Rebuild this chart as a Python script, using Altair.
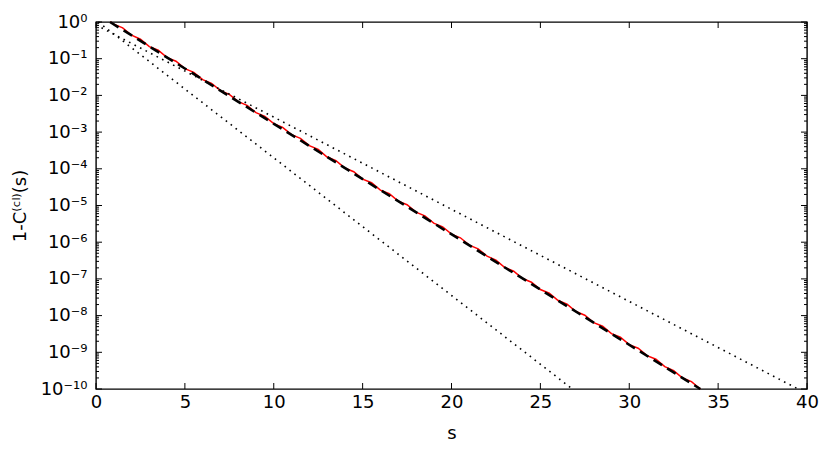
import json
import altair as alt
import pandas as pd

# ---- data ----
# red (solid, slightly wavy) curve: s and log10(1-C)
red_s = [0.8, 1.0, 1.5, 2.0, 2.5, 3.0, 3.5, 4.0, 4.5, 5.0, 5.5, 6.0, 6.5, 7.0, 7.5,
         8.0, 8.5, 9.0, 9.5, 10.0, 10.5, 11.0, 11.5, 12.0, 12.5, 13.0, 13.5, 14.0,
         14.5, 15.0, 15.5, 16.0, 16.5, 17.0, 17.5, 18.0, 18.5, 19.0, 19.5, 20.0,
         20.5, 21.0, 21.5, 22.0, 22.5, 23.0, 23.5, 24.0, 24.5, 25.0, 25.5, 26.0,
         26.5, 27.0, 27.5, 28.0, 28.5, 29.0, 29.5, 30.0, 30.5, 31.0, 31.5, 32.0,
         32.5, 33.0, 33.5, 34.0]
red_log = [0.0, -0.06, -0.16, -0.36, -0.47, -0.67, -0.77, -0.97, -1.07, -1.27, -1.37,
           -1.57, -1.67, -1.87, -1.97, -2.17, -2.27, -2.47, -2.57, -2.77, -2.87, -3.07,
           -3.17, -3.37, -3.47, -3.68, -3.78, -3.98, -4.08, -4.28, -4.38, -4.58, -4.68,
           -4.88, -4.98, -5.18, -5.28, -5.48, -5.58, -5.78, -5.88, -6.08, -6.18, -6.38,
           -6.49, -6.69, -6.79, -6.99, -7.09, -7.29, -7.39, -7.59, -7.69, -7.89, -7.99,
           -8.19, -8.29, -8.49, -8.59, -8.79, -8.89, -9.09, -9.19, -9.39, -9.50, -9.70,
           -9.80, -10.00]

# black dashed straight line
dash_s = [0.79, 34.0]
dash_y = [1.0, 1e-10]

# upper dotted line
dot1_s = [0.0, 39.5]
dot1_y = [0.83, 1e-10]

# lower dotted line
dot2_s = [0.13, 26.8]
dot2_y = [1.0, 1e-10]

# axis ticks
x_ticks = [0, 5, 10, 15, 20, 25, 30, 35, 40]
y_major = [10.0 ** (-k) for k in range(0, 11)]
y_minor = [m * 10.0 ** (-k) for k in range(1, 11) for m in range(2, 10)]

W, H = 711, 367
FONT = "DejaVu Sans"
FS = 18

sup_digits = {"0": "⁰", "1": "¹", "2": "²", "3": "³", "4": "⁴", "5": "⁵",
              "6": "⁶", "7": "⁷", "8": "⁸", "9": "⁹"}
sup_labels = ["⁰"] + ["⁻" + "".join(sup_digits[c] for c in str(k)) for k in range(1, 11)]
label_expr = "'10' + " + json.dumps(sup_labels, ensure_ascii=False) + \
    "[-round(log(datum.value) / LN10)]"

x_enc = alt.X("s:Q",
              scale=alt.Scale(domain=[0, 40], nice=False, zero=False),
              axis=alt.Axis(values=x_ticks, title="s", grid=False, domain=False,
                            ticks=False, labelPadding=4, labelFontSize=FS,
                            labelFont=FONT, titleFont=FONT, titleFontSize=FS,
                            titleFontWeight="normal", titleY=49,
                            titleBaseline="alphabetic", labelColor="black",
                            titleColor="black", labelFlush=False))
y_enc = alt.Y("y:Q",
              scale=alt.Scale(type="log", domain=[1e-10, 1], nice=False),
              axis=alt.Axis(values=y_major, title="1-C⁽ᶜˡ⁾(s)", grid=False,
                            domain=False, ticks=False, labelPadding=9,
                            labelFontSize=FS, labelFont=FONT, labelExpr=label_expr,
                            titleFont=FONT, titleFontSize=FS,
                            titleFontWeight="normal", titleAngle=-90,
                            titleX=-76, titleY=H / 2, titleAlign="center",
                            titleBaseline="middle", labelColor="black",
                            titleColor="black", labelFlush=False))

red_df = pd.DataFrame({"s": red_s, "y": [10.0 ** v for v in red_log]})
dash_df = pd.DataFrame({"s": dash_s, "y": dash_y})
dot1_df = pd.DataFrame({"s": dot1_s, "y": dot1_y})
dot2_df = pd.DataFrame({"s": dot2_s, "y": dot2_y})
xt_df = pd.DataFrame({"s": x_ticks})
ymaj_df = pd.DataFrame({"y": y_major})
ymin_df = pd.DataFrame({"y": y_minor})

red = alt.Chart(red_df).mark_line(color="#ff0000", strokeWidth=1.5).encode(x=x_enc, y=y_enc)
dash = alt.Chart(dash_df).mark_line(color="black", strokeWidth=2.6,
                                    strokeDash=[10, 6]).encode(x=x_enc, y=y_enc)
dot1 = alt.Chart(dot1_df).mark_line(color="black", strokeWidth=1.6,
                                    strokeDash=[1.6, 4.6]).encode(x=x_enc, y=y_enc)
dot2 = alt.Chart(dot2_df).mark_line(color="black", strokeWidth=1.6,
                                    strokeDash=[1.6, 4.6]).encode(x=x_enc, y=y_enc)

tick_style = dict(color="black", strokeWidth=1)
xt_bot = alt.Chart(xt_df).mark_rule(**tick_style).encode(
    x=x_enc, y=alt.value(H), y2=alt.value(H - 6))
xt_top = alt.Chart(xt_df).mark_rule(**tick_style).encode(
    x=x_enc, y=alt.value(0), y2=alt.value(6))
yt_left = alt.Chart(ymaj_df).mark_rule(**tick_style).encode(
    y=y_enc, x=alt.value(0), x2=alt.value(6))
yt_right = alt.Chart(ymaj_df).mark_rule(**tick_style).encode(
    y=y_enc, x=alt.value(W), x2=alt.value(W - 6))
ym_left = alt.Chart(ymin_df).mark_rule(**tick_style).encode(
    y=y_enc, x=alt.value(0), x2=alt.value(3))
ym_right = alt.Chart(ymin_df).mark_rule(**tick_style).encode(
    y=y_enc, x=alt.value(W), x2=alt.value(W - 3))

chart = alt.layer(
    red, dot1, dot2, dash, xt_bot, xt_top, yt_left, yt_right, ym_left, ym_right
).properties(
    width=W, height=H,
    autosize=alt.AutoSizeParams(type="none"),
    padding={"left": 88, "top": 14, "right": 16, "bottom": 55},
    background="white",
).configure_view(stroke="black", strokeWidth=1.4)

chart.save("out.html", embed_options={"renderer": "svg", "actions": False})
